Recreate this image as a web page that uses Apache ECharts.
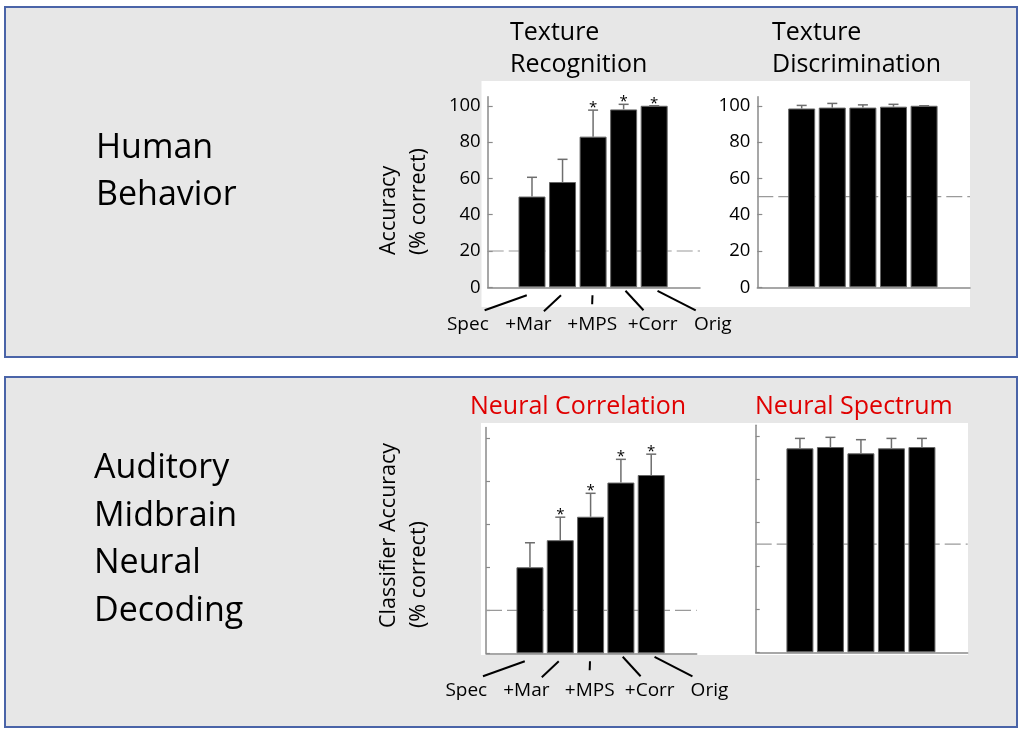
<!DOCTYPE html>
<html>
<head>
<meta charset="utf-8">
<script src="https://cdn.jsdelivr.net/npm/echarts@6/dist/echarts.min.js"></script>
<style>html,body{margin:0;padding:0;background:#fff}#c{width:1024px;height:738px}</style>
</head>
<body>
<div id="c"></div>
<script>
// ---------------- data ----------------
const categories = ['Spec', '+Mar', '+MPS', '+Corr', 'Orig'];
const yTickValues = [0, 20, 40, 60, 80, 100];

const recogMean = [50, 58, 83, 98, 100];
const recogErr = [10.6, 12.5, 14.6, 2.8, 0];
const recogSig = [0, 0, 1, 1, 1];
const recogChance = 20;

const discrimMean = [98.5, 99, 99, 99.5, 100];
const discrimErr = [1.7, 2.3, 1.5, 1.3, 0];
const discrimSig = [0, 0, 0, 0, 0];
const discrimChance = 50;

const neuralCorrMean = [40, 52.6, 63.5, 79.4, 82.9];
const neuralCorrErr = [11.4, 10.7, 10.9, 10.8, 9.7];
const neuralCorrSig = [0, 1, 1, 1, 1];
const neuralCorrChance = 20;

const neuralSpecMean = [94.3, 94.9, 92, 94.3, 94.9];
const neuralSpecErr = [4.6, 4.5, 6.3, 4.6, 4.0];
const neuralSpecSig = [0, 0, 0, 0, 0];
const neuralSpecChance = 50;

const titleRecog = 'Texture\nRecognition';
const titleDiscrim = 'Texture\nDiscrimination';
const titleNeuralCorr = 'Neural Correlation';
const titleNeuralSpec = 'Neural Spectrum';
const rowLabelTop = 'Human\nBehavior';
const rowLabelBottom = 'Auditory\nMidbrain\nNeural\nDecoding';
const yNameTop = 'Accuracy\n(% correct)';
const yNameBottom = 'Classifier Accuracy\n(% correct)';

// ---------------- layout ----------------
const FONT = 'Open Sans';
const XMIN = -1.45, XMAX = 5.5;
const grids = [
  {left: 487.7, top: 96.7, width: 212.3, height: 190.6},
  {left: 757.3, top: 96.7, width: 212.7, height: 190.6},
  {left: 486, top: 427.5, width: 210.7, height: 225.8},
  {left: 755.7, top: 425.2, width: 212, height: 227.1}
];
const panels = [
  {mean: recogMean, err: recogErr, sig: recogSig, chance: recogChance, labels: true, tickLabels: true},
  {mean: discrimMean, err: discrimErr, sig: discrimSig, chance: discrimChance, labels: false, tickLabels: true},
  {mean: neuralCorrMean, err: neuralCorrErr, sig: neuralCorrSig, chance: neuralCorrChance, labels: true, tickLabels: false},
  {mean: neuralSpecMean, err: neuralSpecErr, sig: neuralSpecSig, chance: neuralSpecChance, labels: false, tickLabels: false}
];

// connector geometry (in x data units / pixel offsets below axis)
const connStartX = [-0.17, 0.95, 1.98, 3.06, 4.11];
const connEndX = [-1.55, 0.39, 1.97, 3.65, 5.36];
const connStartDy = [8, 8, 8, 3.5, 3.5];
const connEndDy = [23, 24, 17, 23, 23];
const labelX = [-2.1, -0.12, 1.97, 3.95, 5.92];

const axisColor = '#8a8a8a';

const xAxes = [], yAxes = [], series = [];
panels.forEach((p, g) => {
  xAxes.push({
    type: 'value', gridIndex: g, min: XMIN, max: XMAX,
    axisLine: {show: true, onZero: false, lineStyle: {color: axisColor, width: 1.5}},
    axisTick: {show: false}, axisLabel: {show: false}, splitLine: {show: false}
  });
  yAxes.push({
    type: 'value', gridIndex: g, min: 0, max: 105, interval: 20,
    axisLine: {show: true, onZero: false, lineStyle: {color: axisColor, width: 1.5}},
    splitLine: {show: false},
    axisTick: {show: true, inside: true, length: p.tickLabels ? 5 : 4, customValues: yTickValues,
      lineStyle: {color: axisColor, width: 1.2}},
    axisLabel: p.tickLabels ? {
      show: true, customValues: yTickValues, margin: 7, color: '#000', fontSize: 18.5, fontFamily: FONT,
      formatter: v => (yTickValues.indexOf(v) >= 0 ? String(v) : '')
    } : {show: false}
  });
  series.push({
    type: 'line', xAxisIndex: g, yAxisIndex: g, silent: true, z: 1,
    data: [[XMIN, p.chance], [XMAX, p.chance]],
    symbol: 'none', lineStyle: {color: '#9a9a9a', width: 1.2, type: [16, 5]}
  });
  series.push({
    type: 'bar', xAxisIndex: g, yAxisIndex: g, z: 2, barWidth: 27,
    data: p.mean.map((v, i) => [i, v]),
    itemStyle: {color: '#000', borderColor: '#666', borderWidth: 1},
    emphasis: {disabled: true}
  });
  series.push({
    type: 'custom', xAxisIndex: g, yAxisIndex: g, z: 3, silent: true,
    data: p.mean.map((v, i) => [i, v, p.err[i], p.sig[i]]),
    renderItem: function (params, api) {
      const x = api.value(0), m = api.value(1), e = api.value(2), s = api.value(3);
      const p0 = api.coord([x, m]);
      const p1 = api.coord([x, m + e]);
      const children = [
        {type: 'line', shape: {x1: p0[0], y1: p0[1], x2: p1[0], y2: p1[1]}, style: {stroke: '#6e6e6e', lineWidth: 1.5}},
        {type: 'line', shape: {x1: p1[0] - 5, y1: p1[1], x2: p1[0] + 5, y2: p1[1]}, style: {stroke: '#6e6e6e', lineWidth: 1.5}}
      ];
      if (s) {
        children.push({type: 'text', style: {
          text: '*', x: p1[0], y: p1[1] - 2.5, fill: '#000', fontSize: 15, fontFamily: FONT,
          align: 'center', verticalAlign: 'middle', textAlign: 'center', textVerticalAlign: 'middle'}});
      }
      return {type: 'group', children: children};
    }
  });
  if (p.labels) {
    series.push({
      type: 'custom', xAxisIndex: g, yAxisIndex: g, z: 3, silent: true, clip: false,
      data: categories.map((c, i) => [i]),
      renderItem: function (params, api) {
        const i = api.value(0);
        const axisY = api.coord([0, 0])[1];
        const s = api.coord([connStartX[i], 0]);
        const e = api.coord([connEndX[i], 0]);
        const l = api.coord([labelX[i], 0]);
        return {type: 'group', children: [
          {type: 'line', shape: {x1: s[0], y1: axisY + connStartDy[i], x2: e[0], y2: axisY + connEndDy[i]},
           style: {stroke: '#000', lineWidth: 2}},
          {type: 'text', style: {text: categories[i], x: l[0], y: axisY + 37, fill: '#000', fontSize: 19, fontFamily: FONT,
            align: 'center', verticalAlign: 'middle', textAlign: 'center', textVerticalAlign: 'middle'}}
        ]};
      }
    });
  }
});

function txt(text, x, y, size, color, lh, extra) {
  return Object.assign({
    type: 'text', x: x, y: y, z: 10, silent: true,
    style: {text: text, fill: color, fontSize: size, fontFamily: FONT, lineHeight: lh,
      align: 'left', verticalAlign: 'top', textAlign: 'left', textVerticalAlign: 'top'}
  }, extra || {});
}

const graphics = [
  {type: 'rect', z: -20, silent: true, shape: {x: 5, y: 7, width: 1012, height: 350},
   style: {fill: '#e7e7e7', stroke: '#4a64a8', lineWidth: 2}},
  {type: 'rect', z: -20, silent: true, shape: {x: 5, y: 377, width: 1012, height: 350},
   style: {fill: '#e7e7e7', stroke: '#4a64a8', lineWidth: 2}},
  {type: 'rect', z: -10, silent: true, shape: {x: 481.5, y: 81, width: 488.5, height: 226}, style: {fill: '#fff'}},
  {type: 'rect', z: -10, silent: true, shape: {x: 481, y: 423, width: 487, height: 232}, style: {fill: '#fff'}},
  txt(rowLabelTop, 96, 125, 34, '#000', 47),
  txt(rowLabelBottom, 94, 444.5, 34, '#000', 47.6),
  txt(titleRecog, 510, 17, 25, '#000', 32),
  txt(titleDiscrim, 772, 17, 25, '#000', 32),
  txt(titleNeuralCorr, 470, 391, 25, '#e00000', 32),
  txt(titleNeuralSpec, 755, 391, 25, '#e00000', 32),
  txt(yNameTop, 374, 255, 21.5, '#000', 30, {rotation: Math.PI / 2}),
  txt(yNameBottom, 374, 628, 21.5, '#000', 30, {rotation: Math.PI / 2})
];

const chart = echarts.init(document.getElementById('c'), null, {renderer: 'canvas'});
chart.setOption({
  backgroundColor: '#ffffff',
  animation: false,
  grid: grids.map(g => Object.assign({containLabel: false}, g)),
  xAxis: xAxes,
  yAxis: yAxes,
  series: series,
  graphic: {elements: graphics}
});
</script>
</body>
</html>
